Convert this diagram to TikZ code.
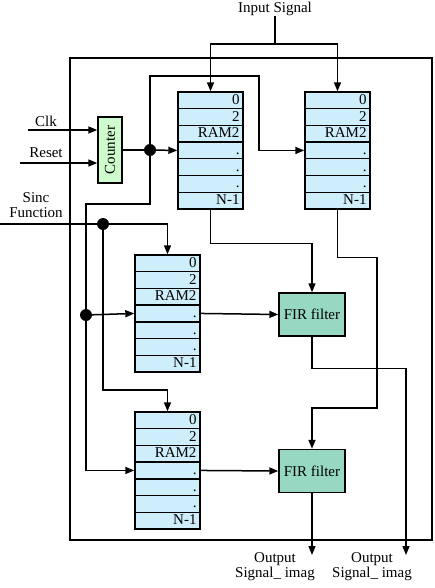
\documentclass[tikz,border=0pt]{standalone}
\usepackage{fontspec}
\setmainfont{Liberation Serif}
\usepackage{tikz}
\usetikzlibrary{arrows.meta, positioning, calc}
\usepackage{xcolor}
\definecolor{ramblue}{RGB}{206,238,252}
\definecolor{cntgreen}{RGB}{206,252,204}
\definecolor{firgreen}{RGB}{150,216,194}

\tikzset{
  ramcell/.style={draw, fill=ramblue, line width=1.4pt, minimum width=65pt, minimum height=16.7pt,
    text width=58pt, align=right, inner xsep=3.5pt, inner ysep=0pt, text height=10pt, text depth=2pt},
  cntbox/.style={draw, fill=cntgreen, line width=1.4pt, minimum width=24pt, minimum height=66pt, inner sep=0pt},
  firbox/.style={draw, fill=firgreen, line width=1.4pt, minimum width=66pt, minimum height=43pt, inner sep=0pt},
  sig/.style={line width=1.5pt, -{Triangle[length=9pt,width=7pt]}},
  wire/.style={line width=1.5pt},
  junc/.style={circle, fill, inner sep=0pt, minimum size=12pt},
  lbl/.style={align=center, inner sep=0pt}
}

% one RAM column: name, left x, top y
\newcommand{\ramblock}[3]{%
  \foreach \lbl [count=\i] in {0,2,RAM2,.,.,.,N-1}
    \node[ramcell] (#1-\i) at ({#2+32.5},{#3+\i*16.7-8.35}) {\lbl};
}

\begin{document}
\begin{tikzpicture}[x=1pt, y=-1pt, font=\fontsize{15}{16}\selectfont]
  \useasboundingbox (0,0) rectangle (434,588);
  \draw[line width=1.6pt] (70,58) rectangle (432,540);

  \ramblock{ramA}{178}{92}
  \ramblock{ramB}{305}{92}
  \ramblock{ramC}{135}{255}
  \ramblock{ramD}{135}{412}

  \node[cntbox] (cnt) at (110,150) {\rotatebox{90}{Counter}};
  \node[firbox] (fir1) at (312,314.5) {FIR filter};
  \node[firbox] (fir2) at (312,471) {FIR filter};

  % inputs
  \node[lbl] (insig) at (275,9) {Input Signal};
  \coordinate (insplit) at (275,44);
  \draw[wire] (insig.south) -- (insplit);
  \draw[sig] (insplit) -| (ramA-1.north);
  \draw[sig] (insplit) -| (ramB-1.north);

  \node[lbl] (clk) at (46,121) {Clk};
  \node[lbl] (rst) at (46,153) {Reset};
  \coordinate (clkin) at (28,130);
  \coordinate (rstin) at (20,163);
  \draw[sig] (clkin) -- (clkin -| cnt.west);
  \draw[sig] (rstin) -- (rstin -| cnt.west);

  % counter address bus
  \node[junc] (dotA) at (150,150) {};
  \draw[wire] (cnt.east) -- (dotA);
  \draw[sig] (dotA) -- (ramA-4.west);
  \coordinate (upA) at (150,76);
  \coordinate (upB) at (259,76);
  \draw[sig] (dotA) -- (upA) -- (upB) |- (ramB-4.west);
  \coordinate (dnA) at (150,204);
  \coordinate (dnB) at (86,204);
  \node[junc] (dotC) at (86,315) {};
  \draw[wire] (dotA) -- (dnA) -- (dnB) -- (dotC);
  \draw[sig] (dotC) -- (ramC-4.west);
  \draw[sig] (dotC) |- (ramD-4.west);

  % sinc function
  \node[lbl] (sinc) at (36,205) {Sinc\\[-1pt]Function};
  \coordinate (sincin) at (0,224);
  \node[junc] (dotS) at (103,224) {};
  \draw[sig] (sincin) -| (ramC-1.north);
  \coordinate (sbend) at (103,390);
  \draw[sig] (dotS) -- (sbend) -| (ramD-1.north);

  % to the filters
  \draw[sig] (ramC-4.east) -- (fir1.west);
  \draw[sig] (ramD-4.east) -- (fir2.west);
  \draw[sig] (ramA-7.south) -- ++(0,34) -| (fir1.north);
  \coordinate (bB) at (377,408);
  \draw[sig] (ramB-7.south) -- ++(0,48) -| (bB) -| (fir2.north);

  % outputs
  \coordinate (out1) at (406,555);
  \draw[sig] (fir1.south) -- ++(0,32) -| (out1);
  \draw[sig] (fir2.south) -- (fir2.south |- out1);
  \node[lbl] (outA) at (275,567) {Output\\[-1pt]Signal\_ imag};
  \node[lbl] (outB) at (372,567) {Output\\[-1pt]Signal\_ imag};
\end{tikzpicture}
\end{document}
